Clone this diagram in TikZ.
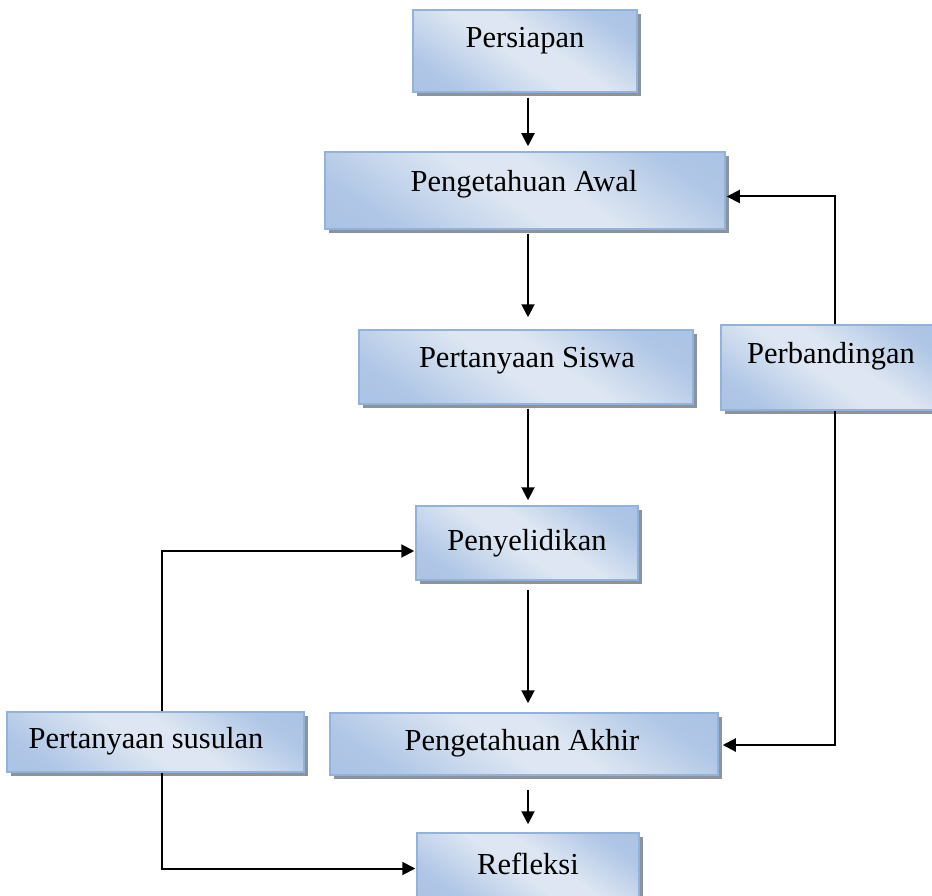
\documentclass[tikz,border=0pt]{standalone}
\usepackage{fontspec}
\setmainfont{Liberation Serif}
\usetikzlibrary{arrows.meta,shadows,calc}
\definecolor{boxA}{HTML}{A3BDE2}
\definecolor{boxM}{HTML}{AFC6E6}
\definecolor{boxB}{HTML}{DDE6F2}
\definecolor{boxline}{HTML}{93B2DA}
\definecolor{shadowgray}{HTML}{8A939E}
\pgfdeclarehorizontalshading{boxshade}{100bp}{color(0bp)=(boxA); color(25bp)=(boxM); color(46bp)=(boxB); color(56bp)=(boxB); color(75bp)=(boxM); color(100bp)=(boxA)}
\begin{document}
\begin{tikzpicture}[x=1pt,y=-1pt,
  box/.style={rectangle, draw=boxline, line width=1.5pt, shading=boxshade, shading angle=55,
    drop shadow={shadow xshift=4pt, shadow yshift=-4pt, fill=shadowgray, opacity=1}, inner sep=0pt},
  lbl/.style={font=\fontsize{30.5}{36}\selectfont, inner sep=0pt, text=black},
  arr/.style={line width=2pt, -{Triangle[length=13pt,width=13pt]}}]
\useasboundingbox (0,0) rectangle (932,896);
\clip (0,0) rectangle (932,896);
\coordinate (mx) at (528,0);
% boxes
\node[box, minimum width=224pt, minimum height=82pt] (pers) at (525,51) {};
\node[lbl] (persT) at (525,41) {Persiapan};
\node[box, minimum width=400pt, minimum height=77pt] (pa) at (525,190.5) {};
\node[lbl] (paT) at (524,184) {Pengetahuan Awal};
\node[box, minimum width=334pt, minimum height=74pt] (ps) at (526,367) {};
\node[lbl] (psT) at (527,361) {Pertanyaan Siswa};
\node[box, minimum width=220pt, minimum height=85pt] (perb) at (831,367.5) {};
\node[lbl] (perbT) at (831,356) {Perbandingan};
\node[box, minimum width=222pt, minimum height=74pt] (pen) at (527,543) {};
\node[lbl] (penT) at (527,543) {Penyelidikan};
\node[box, minimum width=297pt, minimum height=60pt] (sus) at (155.5,742) {};
\node[lbl] (susT) at (146,741) {Pertanyaan susulan};
\node[box, minimum width=388pt, minimum height=62pt] (pak) at (524,744) {};
\node[lbl] (pakT) at (522,743) {Pengetahuan Akhir};
\node[box, minimum width=222pt, minimum height=65pt] (ref) at (528,865.5) {};
\node[lbl] (refT) at (528,864) {Refleksi};
% vertical arrows
\draw[arr] ([yshift=-5pt]pers.south -| mx) -- ([yshift=5pt]pa.north -| mx);
\draw[arr] ([yshift=-4pt]pa.south -| mx) -- ([yshift=12pt]ps.north -| mx);
\draw[arr] ([yshift=-4pt]ps.south -| mx) -- ([yshift=5pt]pen.north -| mx);
\draw[arr] ([yshift=-9pt]pen.south -| mx) -- ([yshift=9pt]pak.north -| mx);
\draw[arr] ([yshift=-14pt]pak.south -| mx) -- ([yshift=8pt]ref.north -| mx);
% side connectors
\draw[arr] ([xshift=4pt]perb.north) |- ([yshift=-6pt,xshift=1pt]pa.east);
\draw[arr] ([xshift=4pt]perb.south) |- ([yshift=-1pt,xshift=4pt]pak.east);
\draw[arr] ([xshift=6pt]sus.north) |- ([yshift=-8pt,xshift=-1pt]pen.west);
\draw[arr] ([xshift=6pt]sus.south) |- ([yshift=-3pt,xshift=-1pt]ref.west);
\end{tikzpicture}
\end{document}
